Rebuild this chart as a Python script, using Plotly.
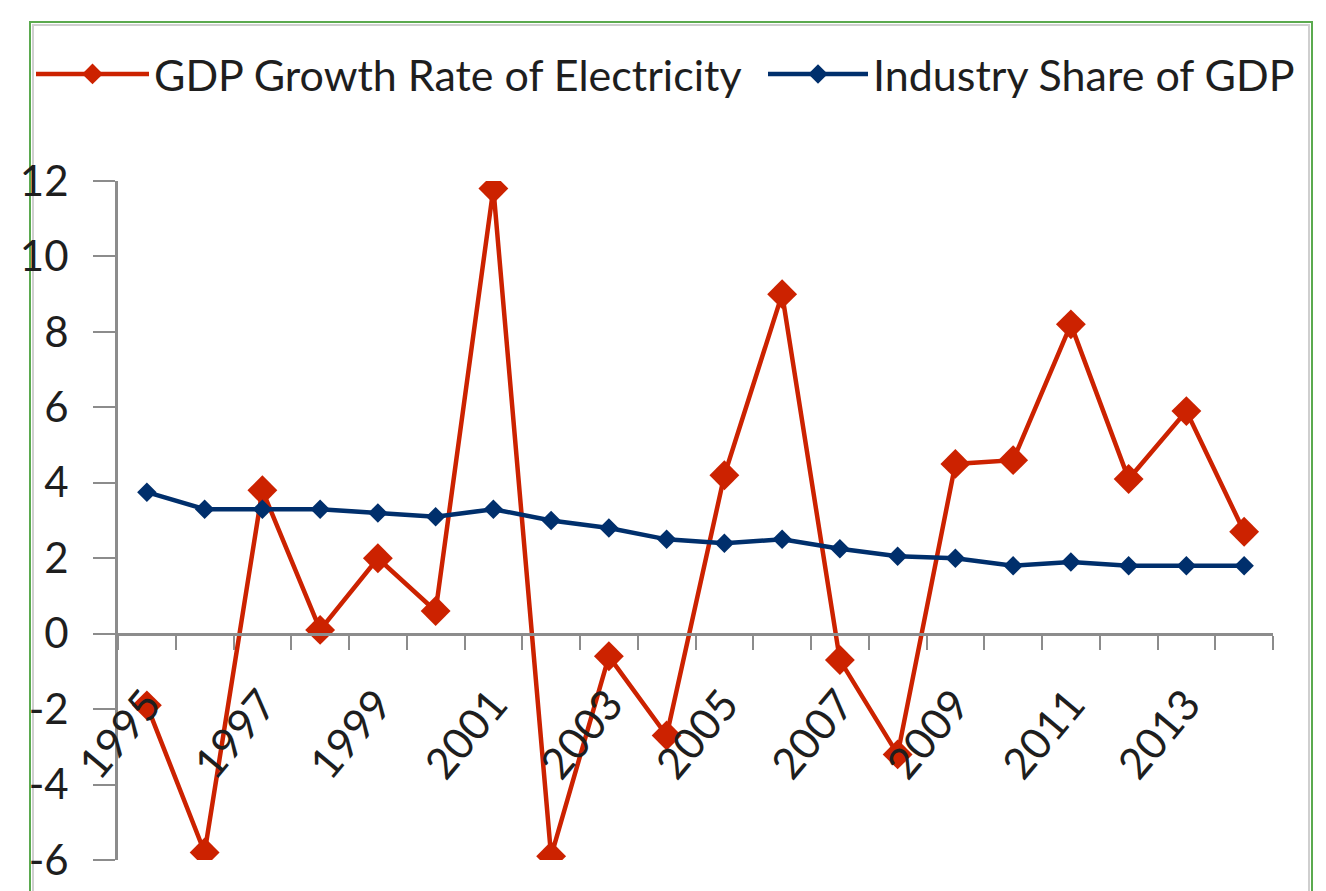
import plotly.graph_objects as go

years = list(range(1995, 2015))
gdp_growth_electricity = [-1.9, -5.8, 3.8, 0.1, 2.0, 0.6, 11.8, -5.9, -0.6, -2.7,
                          4.2, 9.0, -0.7, -3.2, 4.5, 4.6, 8.2, 4.1, 5.9, 2.7]
industry_share = [3.75, 3.3, 3.3, 3.3, 3.2, 3.1, 3.3, 3.0, 2.8, 2.5,
                  2.4, 2.5, 2.25, 2.05, 2.0, 1.8, 1.9, 1.8, 1.8, 1.8]
label_years = list(range(1995, 2015, 2))
y_ticks = list(range(-6, 13, 2))
y_ticktext = [str(v) for v in y_ticks]  # plain hyphen minus, as in the original

RED = "#CC2200"
BLUE = "#002F6C"
AXIS = "#8C8C8C"
FONT = "Lato, sans-serif"
TXT = "#1E1E1E"

fig = go.Figure()
fig.add_trace(go.Scatter(
    x=years, y=gdp_growth_electricity, name="GDP Growth Rate of Electricity",
    mode="lines+markers", line=dict(color=RED, width=4.5),
    marker=dict(symbol="diamond", size=23, color=RED),
    legend="legend",
))
fig.add_trace(go.Scatter(
    x=years, y=industry_share, name="Industry Share of GDP",
    mode="lines+markers", line=dict(color=BLUE, width=4.5),
    marker=dict(symbol="diamond", size=15, color=BLUE),
    legend="legend2",
))

OFF = 8  # page body margin
W, H = 1326, 891
L, T = 118 - OFF, 181 - OFF
R = W - (1273 - OFF)
B = H - (860 - OFF)
pw, ph = W - L - R, H - T - B


def px_x(x):
    return (x - OFF - L) / pw


def px_y(y):
    return (H - B - (y - OFF)) / ph


def cx(x):
    return (x - OFF) / W


def cy(y):
    return 1 - (y - OFF) / H


legend_common = dict(
    orientation="h", xref="container", yref="container",
    xanchor="left", yanchor="middle",
    font=dict(size=43, family=FONT, color=TXT),
    bgcolor="rgba(0,0,0,0)",
)

fig.update_layout(
    width=W, height=H,
    margin=dict(l=L, r=R, t=T, b=B, pad=0, autoexpand=False),
    paper_bgcolor="white", plot_bgcolor="white",
    font=dict(family=FONT, color=TXT),
    showlegend=True,
    legend=dict(x=cx(31), y=cy(74), itemwidth=113, **legend_common),
    legend2=dict(x=cx(763), y=cy(74), itemwidth=100, **legend_common),
    xaxis=dict(
        range=[1994.5, 2014.5], anchor="free", position=6 / 18, automargin=False,
        tickmode="array", tickvals=label_years, ticktext=[str(v) for v in label_years],
        tickangle=-50, ticks="", ticklabelstandoff=26,
        tickfont=dict(size=43, family=FONT, color=TXT),
        showline=True, linecolor=AXIS, linewidth=3, showgrid=False, zeroline=False,
        minor=dict(tickvals=[y - 0.5 for y in years] + [2014.5], ticks="outside",
                   ticklen=14, tickwidth=2, tickcolor=AXIS, showgrid=False),
    ),
    yaxis=dict(
        range=[-6, 12], tickmode="array", tickvals=y_ticks, ticktext=y_ticktext,
        automargin=False,
        ticks="outside", ticklen=22, tickwidth=2, tickcolor=AXIS,
        ticklabelstandoff=16,
        tickfont=dict(size=42, family=FONT, color=TXT),
        showline=True, linecolor=AXIS, linewidth=3, showgrid=False, zeroline=False,
    ),
    shapes=[
        dict(type="rect", xref="paper", yref="paper",
             x0=px_x(30), x1=px_x(1312), y0=px_y(920), y1=px_y(22),
             line=dict(color="#5BAA4F", width=2), layer="below"),
        dict(type="rect", xref="paper", yref="paper",
             x0=px_x(33), x1=px_x(1309), y0=px_y(920), y1=px_y(25),
             line=dict(color="#CFCFCF", width=2), layer="below"),
    ],
)

fig.write_html("out.html")
